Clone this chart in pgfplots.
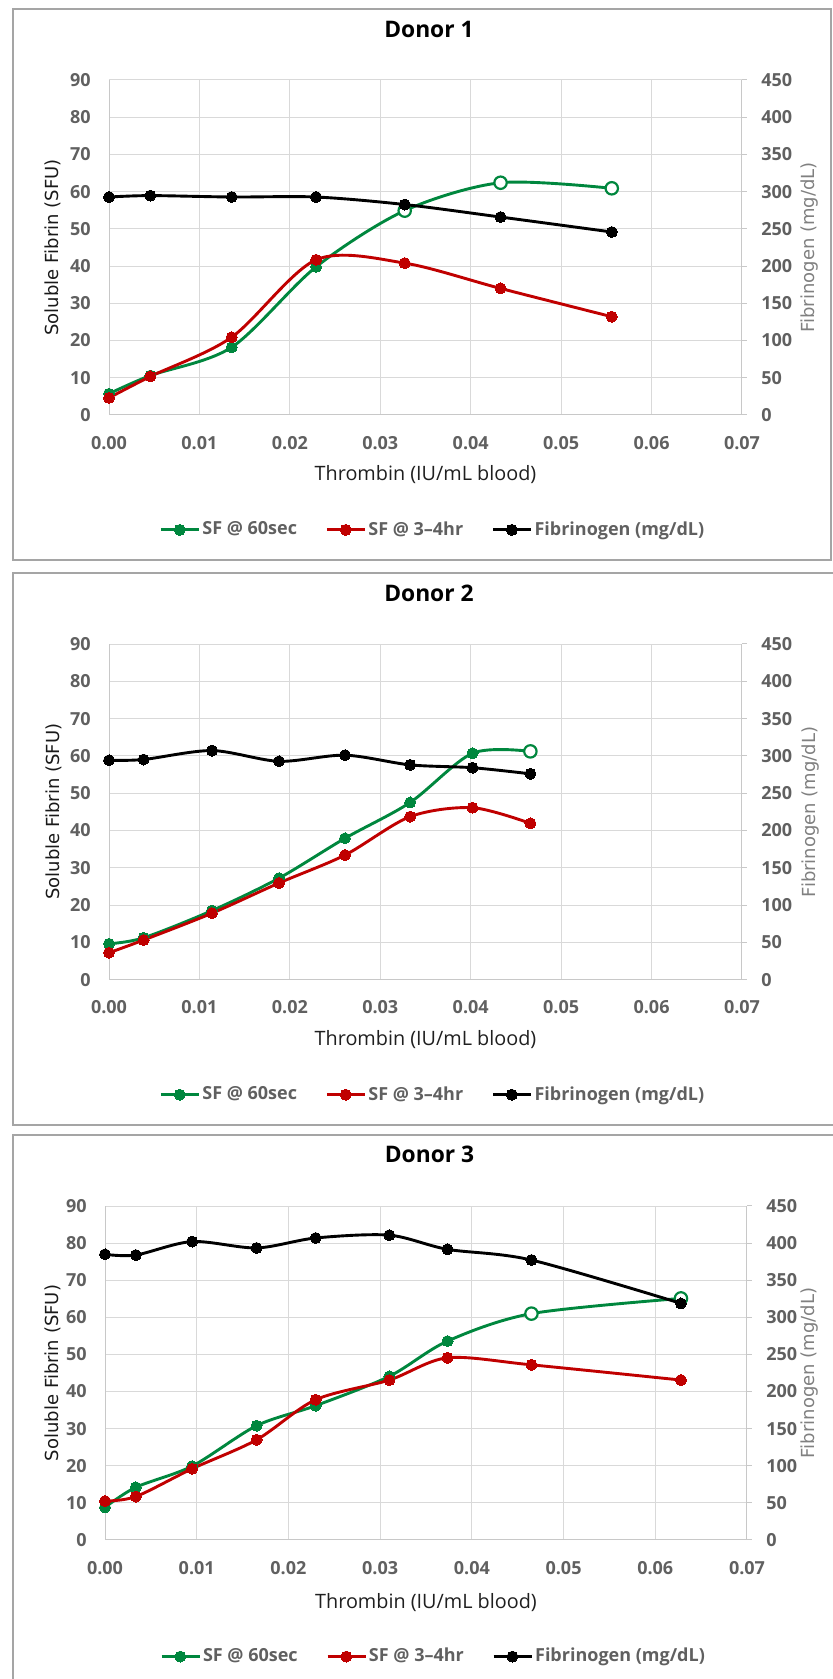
\documentclass[border=0pt]{standalone}
\usepackage{fontspec}
\setmainfont{Open Sans}
\newfontfamily\djv{DejaVu Sans}
\usepackage{pgfplots}
\pgfplotsset{compat=1.18}
\definecolor{sfgreen}{RGB}{0,135,62}
\definecolor{sfred}{RGB}{192,0,0}
\definecolor{tickgray}{RGB}{96,96,96}
\definecolor{gridgray}{RGB}{217,217,217}
\definecolor{axgray}{RGB}{200,200,200}
\definecolor{framegray}{RGB}{165,165,165}
\definecolor{labgray}{RGB}{128,128,128}

\pgfplotsset{
  base/.style={scale only axis, clip=false, xmin=0, xmax=0.07,
    xtick={0,0.01,0.02,0.03,0.04,0.05,0.06,0.07},
    scaled x ticks=false, scaled y ticks=false,
    ticklabel style={font=\fontsize{9}{11}\selectfont\bfseries, text=tickgray},
    /pgf/number format/assume math mode=true,
    axis line style={draw=axgray, line width=0.5pt},
  },
  leftax/.style={base, ymin=0, ymax=90, ytick={0,10,20,30,40,50,60,70,80,90},
    axis x line*=bottom, axis y line*=left, major tick length=0pt,
    xmajorgrids, ymajorgrids, grid style={gridgray, line width=0.5pt},
    xticklabel style={/pgf/number format/fixed, /pgf/number format/fixed zerofill, /pgf/number format/precision=2, anchor=center, inner sep=0pt, yshift=-14pt},
    yticklabel style={anchor=east, inner sep=0pt, xshift=-9pt},
    xlabel={Thrombin (IU/mL blood)},
    xlabel style={font=\fontsize{9.9}{11}\selectfont, text=black!88, anchor=center},
    ylabel={Soluble Fibrin (SFU)},
    ylabel style={font=\djv\fontsize{9}{11}\selectfont, text=black!90, anchor=center},
    title style={font=\fontsize{11.4}{13}\selectfont\bfseries, anchor=center},
  },
  rightax/.style={base, ymin=0, ymax=450, ytick={0,50,100,150,200,250,300,350,400,450},
    axis x line=none, axis y line*=right, tick align=outside, major tick length=2.5pt,
    ytick style={draw=axgray, line width=0.5pt},
    yticklabel style={anchor=west, inner sep=0pt, xshift=7pt},
    ylabel={Fibrinogen (mg/dL)},
    ylabel style={font=\djv\fontsize{9}{11}\selectfont, text=labgray, anchor=center},
    legend columns=3,
    legend style={draw=none, fill=none, anchor=center,
      font=\fontsize{9}{11}\selectfont\bfseries, text=tickgray,
      nodes={inner sep=1.2pt},
      /tikz/every even column/.append style={column sep=13pt}},
    legend image code/.code={\draw[mark repeat=2, mark phase=2, ##1] plot coordinates {(0pt,0pt) (9.4pt,0pt) (18.8pt,0pt)};},
  },
  gline/.style={sfgreen, line width=1.45pt, smooth, tension=0.5, mark=*, mark size=2.75pt, mark options={solid, fill=sfgreen, draw=sfgreen, line width=0pt}},
  rline/.style={sfred, line width=1.45pt, smooth, tension=0.5, mark=*, mark size=2.75pt, mark options={solid, fill=sfred, draw=sfred, line width=0pt}},
  kline/.style={black, line width=1.45pt, smooth, tension=0.5, mark=*, mark size=2.75pt, mark options={solid, fill=black, draw=black, line width=0pt}},
  openg/.style={only marks, forget plot, mark=*, mark size=3.1pt, mark options={fill=white, draw=sfgreen, line width=1.1pt}},
}

\begin{document}
\begin{tikzpicture}
\useasboundingbox (0pt,0pt) rectangle (416.5pt,839.5pt);
% panel frames
\draw[framegray, line width=0.75pt] (6.5pt,559.5pt) rectangle (415.5pt,835pt);
\draw[framegray, line width=0.75pt] (6.5pt,277pt) rectangle (425pt,553pt);
\draw[framegray, line width=0.75pt] (6.5pt,-10pt) rectangle (425pt,272pt);

% ===== Donor 1 =====
\begin{axis}[leftax, at={(54.5pt,632pt)}, anchor=south west, width=316.5pt, height=167.5pt,
  title={Donor 1}, title style={at={(axis description cs:0.5055,1.116)}},
  xlabel style={at={(axis description cs:0.5,-0.179)}},
  ylabel style={at={(axis description cs:-0.0885,0.5)}}]
\addplot[gline] coordinates {(0,5.7) (0.00458,10.6) (0.01357,18.2) (0.0229,39.8) (0.0327,54.9) (0.0433,62.4) (0.0556,60.9)};
\addplot[openg] coordinates {(0.0327,54.9) (0.0433,62.4) (0.0556,60.9)};
\addplot[rline] coordinates {(0,4.6) (0.00458,10.35) (0.01357,20.9) (0.0229,41.7) (0.0327,40.8) (0.0433,34.0) (0.0556,26.4)};
\end{axis}
\begin{axis}[rightax, at={(54.5pt,632pt)}, anchor=south west, width=316.5pt, height=167.5pt,
  ylabel style={at={(axis description cs:1.107,0.5)}},
  legend style={at={(axis description cs:0.512,-0.343)}}]
\addlegendimage{gline}
\addlegendentry{SF @ 60sec}
\addlegendimage{rline}
\addlegendentry{SF @ 3–4hr}
\addplot[kline] coordinates {(0,292.8) (0.00458,294.7) (0.01357,292.8) (0.0229,292.8) (0.0327,282.7) (0.0433,265.9) (0.0556,245.8)};
\addlegendentry{Fibrinogen (mg/dL)}
\end{axis}

% ===== Donor 2 =====
\begin{axis}[leftax, at={(54.5pt,349.7pt)}, anchor=south west, width=316.5pt, height=167.8pt,
  title={Donor 2}, title style={at={(axis description cs:0.5055,1.114)}},
  xlabel style={at={(axis description cs:0.5,-0.179)}},
  ylabel style={at={(axis description cs:-0.0869,0.5)}}]
\addplot[gline] coordinates {(0,9.6) (0.00382,11.2) (0.01139,18.5) (0.0188,27.2) (0.0261,37.9) (0.0333,47.5) (0.0402,60.7) (0.0466,61.2)};
\addplot[openg] coordinates {(0.0466,61.2)};
\addplot[rline] coordinates {(0,7.2) (0.00382,10.6) (0.01139,17.8) (0.0188,25.9) (0.0261,33.4) (0.0333,43.7) (0.0402,46.1) (0.0466,41.9)};
\end{axis}
\begin{axis}[rightax, at={(54.5pt,349.7pt)}, anchor=south west, width=316.5pt, height=167.8pt,
  ylabel style={at={(axis description cs:1.109,0.5)}},
  legend style={at={(axis description cs:0.512,-0.343)}}]
\addlegendimage{gline}
\addlegendentry{SF @ 60sec}
\addlegendimage{rline}
\addlegendentry{SF @ 3–4hr}
\addplot[kline] coordinates {(0,294.1) (0.00382,295.1) (0.01139,307.1) (0.0188,292.7) (0.0261,300.9) (0.0333,287.9) (0.0402,284.1) (0.0466,275.9)};
\addlegendentry{Fibrinogen (mg/dL)}
\end{axis}

% ===== Donor 3 =====
\begin{axis}[leftax, at={(52.5pt,69.5pt)}, anchor=south west, width=321pt, height=167pt,
  title={Donor 3}, title style={at={(axis description cs:0.5055,1.119)}},
  xlabel style={at={(axis description cs:0.5,-0.186)}},
  ylabel style={at={(axis description cs:-0.081,0.5)}}]
\addplot[gline] coordinates {(0,8.8) (0.00336,14.2) (0.0095,19.9) (0.01653,30.8) (0.02297,36.2) (0.0310,44.1) (0.03735,53.6) (0.0465,61.0) (0.0628,65.1)};
\addplot[openg] coordinates {(0.0465,61.0) (0.0628,65.1)};
\addplot[rline] coordinates {(0,10.5) (0.00336,11.7) (0.0095,19.2) (0.01653,27.0) (0.02297,37.8) (0.0310,43.1) (0.03735,49.1) (0.0465,47.2) (0.0628,43.1)};
\end{axis}
\begin{axis}[rightax, at={(52.5pt,69.5pt)}, anchor=south west, width=321pt, height=167pt,
  ylabel style={at={(axis description cs:1.098,0.5)}},
  legend style={at={(axis description cs:0.512,-0.349)}}]
\addlegendimage{gline}
\addlegendentry{SF @ 60sec}
\addlegendimage{rline}
\addlegendentry{SF @ 3–4hr}
\addplot[kline] coordinates {(0,384.9) (0.00336,383.9) (0.0095,402.1) (0.01653,393.5) (0.02297,406.9) (0.0310,410.7) (0.03735,391.6) (0.0465,377.2) (0.0628,318.8)};
\addlegendentry{Fibrinogen (mg/dL)}
\end{axis}
\end{tikzpicture}
\end{document}
